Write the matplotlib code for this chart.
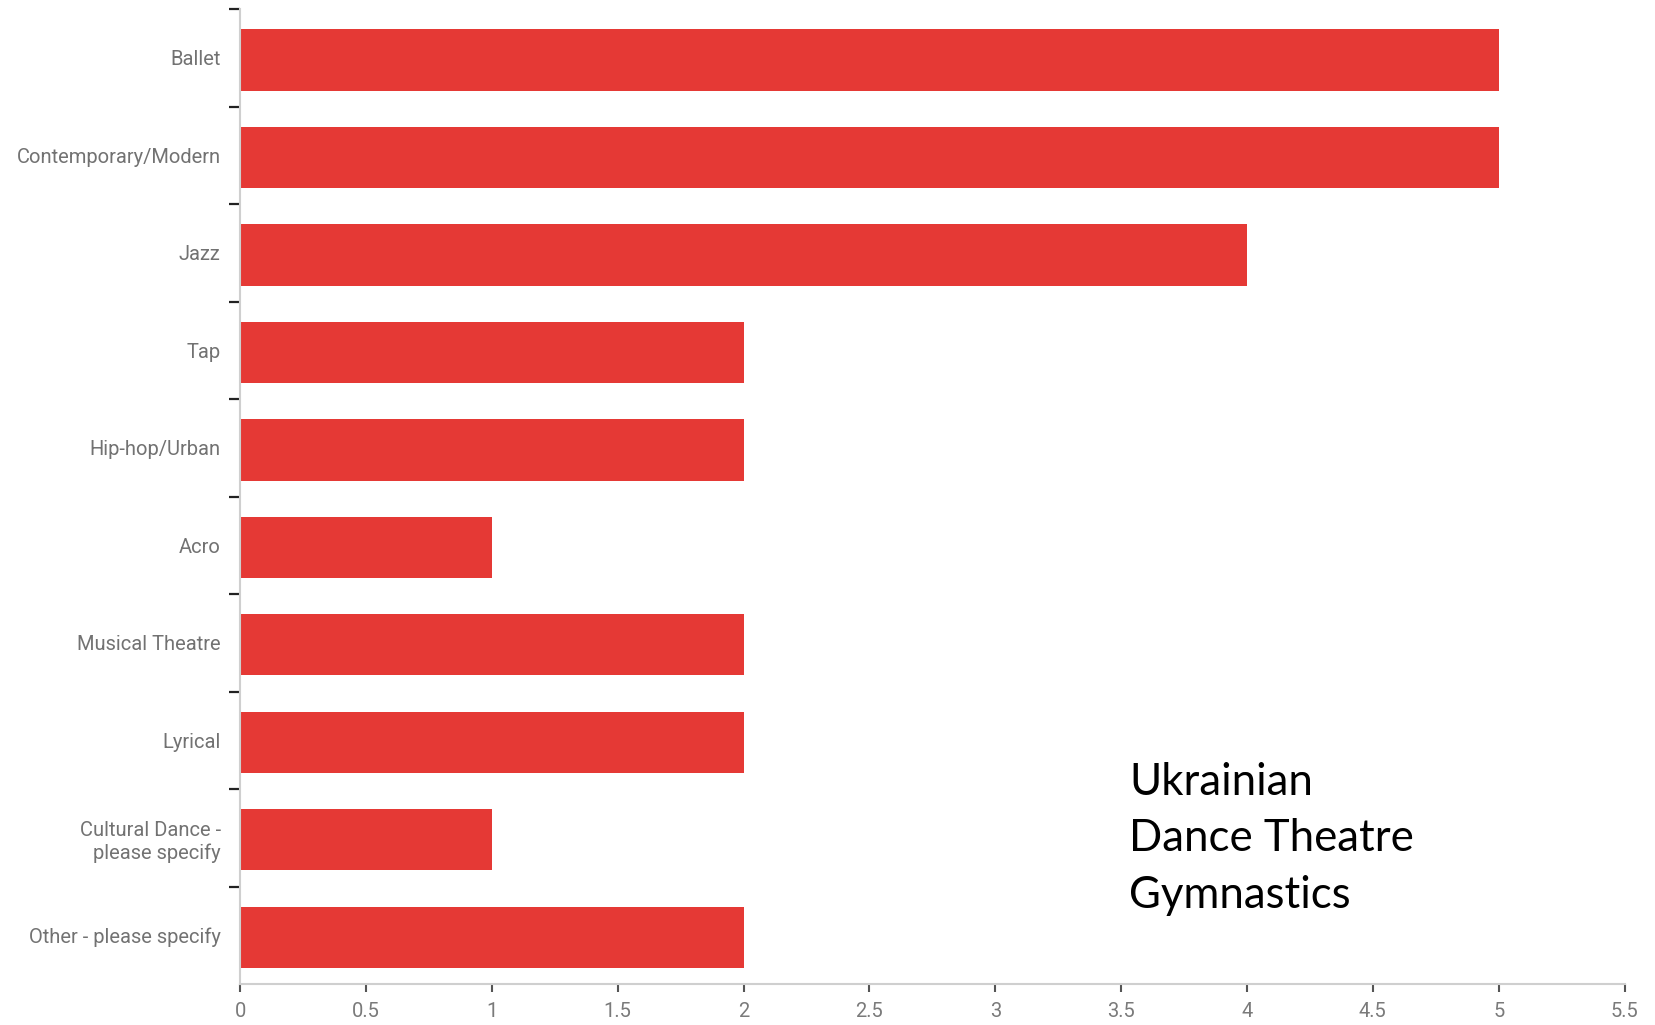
import numpy as np
import matplotlib.pyplot as plt

categories = ['Ballet', 'Contemporary/Modern', 'Jazz', 'Tap', 'Hip-hop/Urban', 'Acro',
              'Musical Theatre', 'Lyrical', 'Cultural Dance -\nplease specify',
              'Other - please specify']
counts = [5, 5, 4, 2, 2, 1, 2, 2, 1, 2]
x_ticks = [0, 0.5, 1, 1.5, 2, 2.5, 3, 3.5, 4, 4.5, 5, 5.5]
note_lines = ['Ukrainian', 'Dance Theatre', 'Gymnastics']

plt.rcParams['font.family'] = ['Roboto', 'DejaVu Sans']

fig = plt.figure(figsize=(16.56, 10.25), dpi=100)
ax = fig.add_axes([0.145, 0.040, 0.836, 0.951])

pos = np.arange(len(categories))
ax.barh(pos + 0.02, counts, height=0.63, color='#E53935', zorder=2)

ax.set_xlim(0, 5.5)
ax.set_ylim(len(categories) - 0.5, -0.5)

# boundary ticks (no label) + labels at band centres
ax.set_yticks(np.arange(len(categories)) - 0.5)
ax.set_yticklabels([])
ax.set_yticks(pos, minor=True)
ax.set_yticklabels(categories, minor=True, fontsize=14.5, color='#727272',
                   linespacing=1.25)
ax.tick_params(axis='y', which='major', length=8, width=1.6, color='#222222')
ax.tick_params(axis='y', which='minor', length=0, pad=14)

ax.set_xticks(x_ticks)
ax.set_xticklabels([f'{v:g}' for v in x_ticks], fontsize=14.5, color='#7a7a7a')
ax.tick_params(axis='x', length=6, width=1.5, color='#555555', pad=7)

for s in ['top', 'right']:
    ax.spines[s].set_visible(False)
for s in ['left', 'bottom']:
    ax.spines[s].set_color('#cfcfcf')
    ax.spines[s].set_linewidth(1.5)

ax.text(0.682, 0.257, '\n'.join(note_lines), transform=fig.transFigure,
        fontsize=31.5, family=['Lato', 'DejaVu Sans'], color='black',
        va='top', ha='left', linespacing=1.48)

fig.savefig('out.png', dpi=100)
